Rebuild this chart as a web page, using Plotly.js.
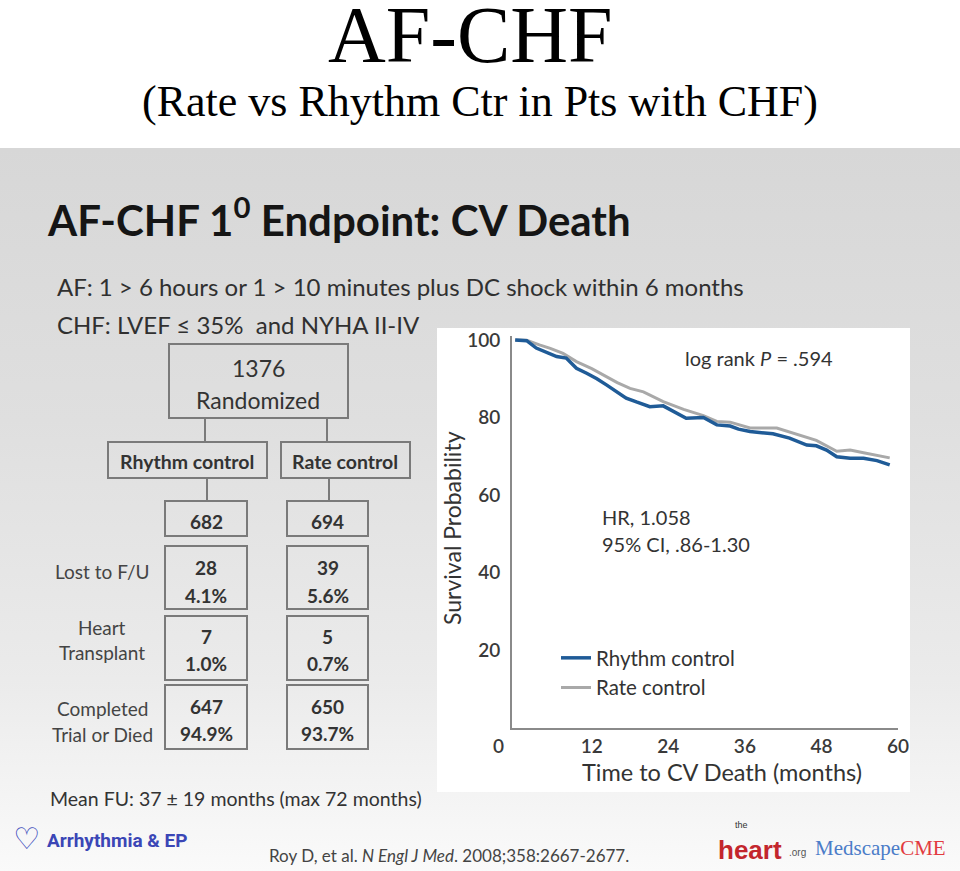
<!DOCTYPE html>
<html>
<head>
<meta charset="utf-8">
<script src="https://cdn.plot.ly/plotly-3.0.1.min.js"></script>
<style>
  html, body { margin: 0; padding: 0; background: #ffffff; }
  #wrap {
    position: relative; width: 960px; height: 871px;
    background: linear-gradient(to bottom, #ffffff 0px, #ffffff 148px, #d7d7d7 148px, #dfdfdf 420px, #ebebeb 680px, #f6f6f6 820px, #fafafa 871px);
  }
  #chart { position: absolute; left: 0; top: 0; width: 960px; height: 871px; }
</style>
</head>
<body>
<div id="wrap"><div id="chart"></div></div>
<script>
// ---------------- DATA ----------------
const rhythmMonths = [0, 1.8, 3.3, 5, 6.5, 8, 9.6, 11.2, 12.8, 14.3, 15.8, 17.4, 19, 21.1, 23.2, 25, 26.8, 29.5, 31.6, 33.7, 35, 36.8, 38.5, 40.4, 43, 45.7, 47.2, 48.8, 50.4, 52.5, 54.6, 56.7, 58.7];
const rhythmSurv   = [100, 99.8, 97.9, 96.8, 95.7, 95.3, 92.7, 91.4, 90, 88.4, 86.8, 85, 84, 82.8, 83, 81.5, 79.8, 80, 78.1, 77.8, 77, 76.4, 76.1, 75.8, 74.7, 72.9, 72.7, 71.6, 69.9, 69.5, 69.5, 68.9, 67.8];
const rateMonths   = [0, 1.8, 3.8, 5.5, 7.5, 9.6, 12, 14.3, 16, 18, 20.1, 23.2, 26.4, 29.5, 31.6, 33.7, 36.8, 41, 44.2, 47.2, 50.4, 52.5, 54.6, 58.7];
const rateSurv     = [100, 99.9, 98.7, 97.8, 96.5, 94.4, 92.6, 90.5, 89, 87.5, 86.6, 84.1, 82.1, 80.5, 79, 78.8, 77.3, 77.3, 75.6, 74.1, 71.3, 71.6, 70.9, 69.6];
const seriesNames  = ['Rhythm control', 'Rate control'];
const xTickVals    = [12, 24, 36, 48, 60];
const yTickVals    = [20, 40, 60, 80, 100];

// flowchart values
const totalRandomized = 1376;
const armN            = [682, 694];
const lostFU          = [28, 39];
const lostFUPct       = ['4.1%', '5.6%'];
const transplant      = [7, 5];
const transplantPct   = ['1.0%', '0.7%'];
const completed       = [647, 650];
const completedPct    = ['94.9%', '93.7%'];

// ---------------- LAYOUT HELPERS ----------------
const W = 960, H = 871;
const fx = x => x / W;
const fy = y => 1 - y / H;
const SANS = 'Lato, "Open Sans", "DejaVu Sans", sans-serif';
const SERIF = '"Liberation Serif", "Times New Roman", serif';

const shapes = [];
const annotations = [];

function rect(x0, y0, x1, y1, line, fill, layer) {
  shapes.push({type: 'rect', xref: 'paper', yref: 'paper',
    x0: fx(x0), x1: fx(x1), y0: fy(y1), y1: fy(y0),
    line: line || {color: '#7a7a7a', width: 2}, fillcolor: fill || 'rgba(0,0,0,0)', layer: layer || 'above'});
}
function vline(x, y0, y1) {
  shapes.push({type: 'line', xref: 'paper', yref: 'paper', x0: fx(x), x1: fx(x), y0: fy(y0), y1: fy(y1),
    line: {color: '#7a7a7a', width: 2}});
}
function txt(text, x, y, size, opts) {
  opts = opts || {};
  annotations.push(Object.assign({
    text: text, xref: 'paper', yref: 'paper', x: fx(x), y: fy(y),
    xanchor: opts.xanchor || 'center', yanchor: 'middle', showarrow: false,
    font: {family: opts.family || SANS, size: size, color: opts.color || '#333333'},
    textangle: opts.angle || 0
  }));
}

// white chart panel
rect(437, 328, 910, 792, {width: 0}, '#ffffff', 'below');

// Slide heading & criteria
txt('AF-CHF', 470, 35, 80, {family: SERIF, color: '#000000'});
txt('(Rate vs Rhythm Ctr in Pts with CHF)', 480, 102, 44, {family: SERIF, color: '#000000'});
txt('<b>AF-CHF 1<sup>0</sup> Endpoint: CV Death</b>', 45, 217, 42, {xanchor: 'left', color: '#151515'});
txt('AF: 1 > 6 hours or 1 > 10 minutes plus DC shock within 6 months', 55, 286, 24, {xanchor: 'left', color: '#303030'});
txt('CHF: LVEF ≤ 35%  and NYHA II-IV', 55, 324, 24, {xanchor: 'left', color: '#303030'});

// Flowchart
rect(169, 344, 348, 418);
txt(String(totalRandomized), 258, 368, 23);
txt('Randomized', 258, 400, 23);
vline(205, 418, 442); vline(327, 418, 442);
rect(108, 442, 267, 478); rect(281, 442, 410, 478);
txt('<b>' + seriesNames[0] + '</b>', 187, 461, 19.5);
txt('<b>' + seriesNames[1] + '</b>', 345, 461, 19.5);
vline(207, 478, 501); vline(329, 478, 501);
const colX = [[165, 247], [287, 368]];
const rows = [[501, 536], [546, 609], [616, 680], [685, 749]];
for (let i = 0; i < 2; i++) {
  const [a, b] = colX[i];
  const cx = (a + b) / 2;
  rows.forEach(r => rect(a, r[0], b, r[1]));
  txt('<b>' + armN[i] + '</b>', cx, 521, 19);
  txt('<b>' + lostFU[i] + '</b>', cx, 567, 19);
  txt('<b>' + lostFUPct[i] + '</b>', cx, 595, 19);
  txt('<b>' + transplant[i] + '</b>', cx, 636, 19);
  txt('<b>' + transplantPct[i] + '</b>', cx, 663, 19);
  txt('<b>' + completed[i] + '</b>', cx, 706, 19);
  txt('<b>' + completedPct[i] + '</b>', cx, 733, 19);
}
txt('Lost to F/U', 102, 571, 19, {color: '#444444'});
txt('Heart', 102, 627, 19, {color: '#444444'});
txt('Transplant', 102, 652, 19, {color: '#444444'});
txt('Completed', 102, 708, 19, {color: '#444444'});
txt('Trial or Died', 102, 734, 19, {color: '#444444'});
txt('Mean FU: 37 ± 19 months (max 72 months)', 48, 798, 19.5, {xanchor: 'left', color: '#333333'});

// Chart texts
txt('log rank <i>P</i> = .594', 683, 358, 20, {xanchor: 'left'});
txt('HR, 1.058', 600, 517, 20, {xanchor: 'left'});
txt('95% CI, .86-1.30', 600, 544, 20, {xanchor: 'left'});
txt('Survival Probability', 452, 528, 23, {angle: -90});
txt('Time to CV Death (months)', 722, 772, 23.5);
annotations.push({text: '0', xref: 'paper', yref: 'paper', x: fx(498), y: fy(745), xanchor: 'center', yanchor: 'middle',
  showarrow: false, font: {family: SANS, size: 19, color: '#3a3a3a', weight: 600}});

// Footer
txt('<b>♡</b>', 26, 838, 30, {family: '"DejaVu Sans", sans-serif', color: '#3c4cbc'});
txt('<b>Arrhythmia & EP</b>', 45, 840, 19, {xanchor: 'left', family: '"Liberation Sans Narrow", "Roboto", sans-serif', color: '#3b46b6'});
txt('Roy D, et al. <i>N Engl J Med</i>. 2008;358:2667-2677.', 449, 855, 17, {color: '#444444'});
txt('the', 741, 825, 9, {family: '"Liberation Sans", sans-serif', color: '#333333'});
txt('<b>heart</b>', 750, 850, 26, {family: '"Liberation Sans", sans-serif', color: '#c3262d'});
txt('.org', 797, 852, 10, {family: '"Liberation Sans", sans-serif', color: '#555555'});
txt('Medscape<span style="color:#e23a3f">CME</span>', 880, 848, 21, {family: SERIF, color: '#4b7cc8'});

// ---------------- TRACES ----------------
const traces = [
  {x: rateMonths, y: rateSurv, name: seriesNames[1], type: 'scatter', mode: 'lines',
   line: {color: '#a9a9a9', width: 3}, legendrank: 2},
  {x: rhythmMonths, y: rhythmSurv, name: seriesNames[0], type: 'scatter', mode: 'lines',
   line: {color: '#1f5b97', width: 3.5}, legendrank: 1}
];

const layout = {
  width: W, height: H,
  margin: {l: 0, r: 0, t: 0, b: 0},
  paper_bgcolor: 'rgba(0,0,0,0)',
  plot_bgcolor: 'rgba(0,0,0,0)',
  showlegend: true,
  legend: {x: fx(556), y: fy(638), xanchor: 'left', yanchor: 'top', bgcolor: 'rgba(0,0,0,0)',
           font: {family: SANS, size: 20.5, color: '#333333'}, tracegroupgap: 0},
  xaxis: {domain: [fx(512), fx(898)], range: [-0.5, 60], tickvals: xTickVals, showgrid: false, zeroline: false,
          showline: true, linecolor: '#8a8a8a', linewidth: 2, ticks: '', automargin: false,
          tickfont: {family: SANS, size: 19, color: '#3a3a3a', weight: 600}},
  yaxis: {domain: [fy(728), fy(336)], range: [0, 101], tickvals: yTickVals, showgrid: false, zeroline: false,
          showline: true, linecolor: '#8a8a8a', linewidth: 2, ticks: '', automargin: false, ticklabelstandoff: 6,
          tickfont: {family: SANS, size: 19, color: '#3a3a3a', weight: 600}},
  shapes: shapes,
  annotations: annotations
};

Plotly.newPlot('chart', traces, layout, {displayModeBar: false, staticPlot: true});
</script>
</body>
</html>
